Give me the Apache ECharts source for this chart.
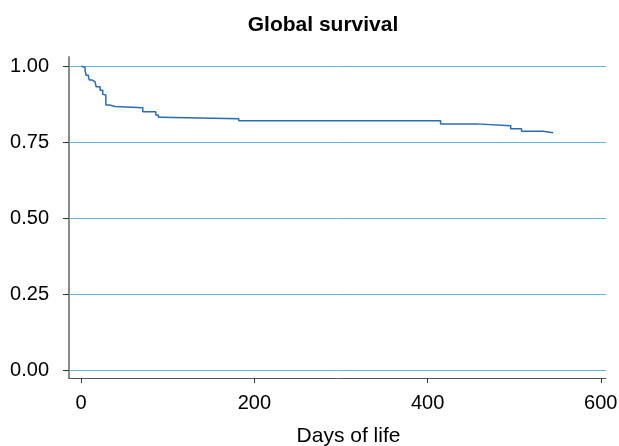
<!DOCTYPE html>
<html>
<head>
<meta charset="utf-8">
<script src="https://cdn.jsdelivr.net/npm/echarts@6/dist/echarts.min.js"></script>
<style>html,body{margin:0;padding:0;background:#fff;}#c{width:619px;height:446px;}</style>
</head>
<body>
<div id="c"></div>
<script>
// Kaplan-Meier step estimates (day, survival)
var days = [0, 1.9, 4.6, 5.8, 8.5, 9.6, 13, 16.2, 17.3, 21.9, 25, 26.9, 28.5, 32.7, 39.2, 71.2, 86.2, 89.2, 92.3, 182, 415, 456, 496, 508.5, 533.5, 545];
var survival = [1.0, 0.995, 0.985, 0.970, 0.962, 0.954, 0.948, 0.944, 0.932, 0.921, 0.907, 0.905, 0.872, 0.867, 0.863, 0.850, 0.839, 0.832, 0.827, 0.820, 0.810, 0.804, 0.794, 0.786, 0.781, 0.781];
var xTicks = [0, 200, 400, 600];
var yTicks = [0, 0.25, 0.5, 0.75, 1];

// expand to explicit step corners (value held until next event day)
var pts = [];
for (var i = 0; i < days.length; i++) {
  if (i > 0) pts.push([days[i], survival[i - 1]]);
  pts.push([days[i], survival[i]]);
}
var font = 'Liberation Sans, Arial, sans-serif';
var chart = echarts.init(document.getElementById('c'), null, {renderer: 'canvas'});
chart.setOption({
  animation: false,
  backgroundColor: '#fff',
  title: {
    text: 'Global survival',
    left: 318, top: 10, textAlign: 'center',
    textStyle: {fontFamily: font, fontSize: 21, fontWeight: 'bold', color: '#000'}
  },
  grid: {left: 69, right: 13, top: 57, bottom: 68, containLabel: false, outerBoundsMode: 'none'},
  xAxis: {
    type: 'value', min: -14, max: 606,
    name: 'Days of life', nameLocation: 'middle', nameGap: 48,
    nameTextStyle: {fontFamily: font, fontSize: 21, color: '#000', padding: [0, 0, 0, 22]},
    axisLine: {show: true, onZero: false, lineStyle: {color: '#555', width: 1}},
    axisTick: {show: true, length: 5, customValues: xTicks, lineStyle: {color: '#333', width: 1}},
    axisLabel: {customValues: xTicks, margin: 15, fontFamily: font, fontSize: 20, color: '#000'},
    splitLine: {show: false}
  },
  yAxis: {
    type: 'value', min: -0.026, max: 1.03,
    axisLine: {show: true, onZero: false, lineStyle: {color: '#8a8a8a', width: 2}},
    axisTick: {show: true, length: 6, customValues: yTicks, lineStyle: {color: '#333', width: 1}},
    axisLabel: {customValues: yTicks, margin: 20, fontFamily: font, fontSize: 20, color: '#000',
      formatter: function (v) { return v.toFixed(2); }},
    splitLine: {show: false}
  },
  series: [{
    type: 'line', data: pts, symbol: 'none',
    lineStyle: {color: '#2a6bb5', width: 1.5},
    z: 3,
    markLine: {
      silent: true, symbol: ['none', 'none'], label: {show: false},
      lineStyle: {color: '#5eb6e0', width: 1, type: 'solid'},
      data: yTicks.map(function (v) { return {yAxis: v}; }),
      z: 1
    }
  }]
});
</script>
</body>
</html>
